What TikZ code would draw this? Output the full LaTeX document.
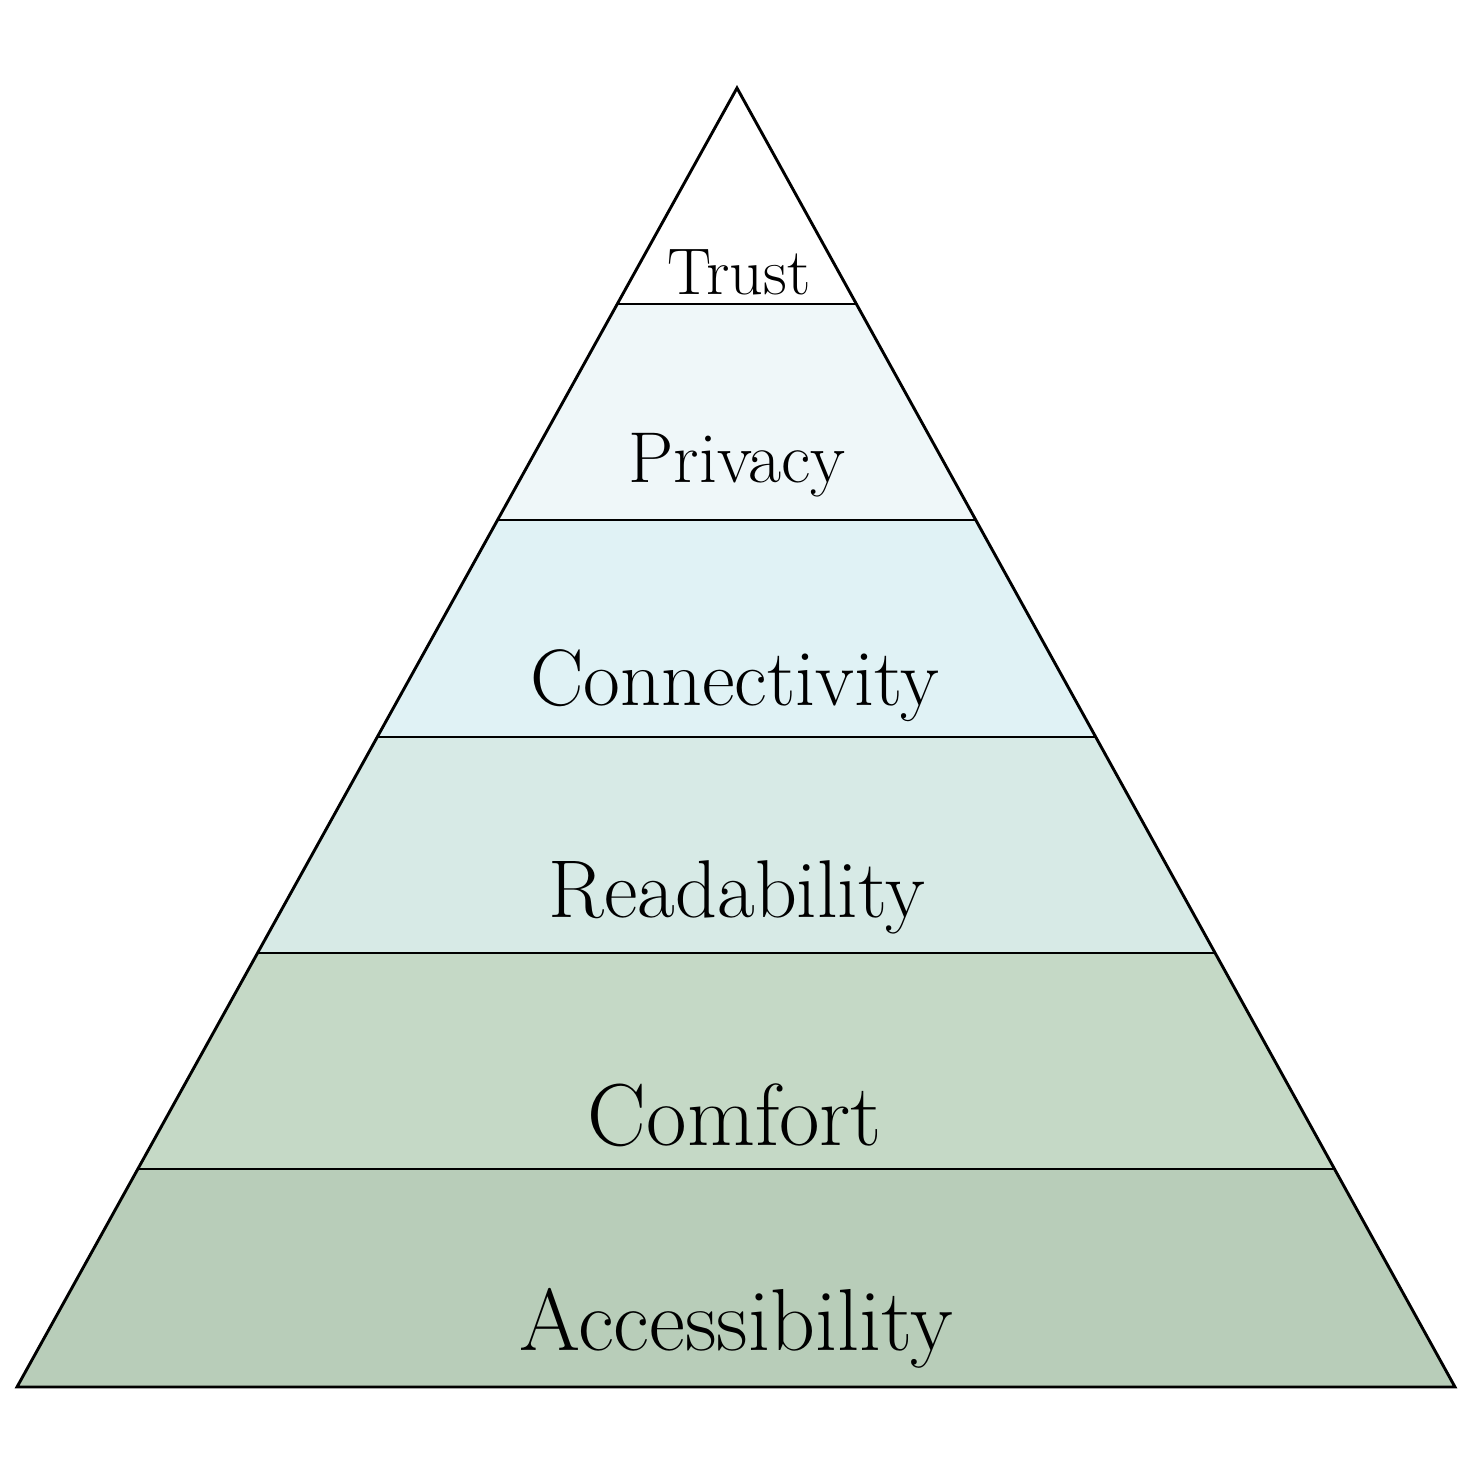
\documentclass[tikz,border=0pt]{standalone}
\begin{document}
\begin{tikzpicture}[x=1pt,y=-1pt,
  layer/.style={draw=black,line width=2.9pt,line join=miter},
  lbl/.style={anchor=base,inner sep=0pt,text=black}]
\definecolor{cPriv}{HTML}{EFF7F9}
\definecolor{cConn}{HTML}{E0F2F5}
\definecolor{cRead}{HTML}{D7EAE6}
\definecolor{cComf}{HTML}{C5D9C6}
\definecolor{cAcc}{HTML}{B8CDB9}
\useasboundingbox (0,0) rectangle (1476,1476);
\coordinate (A) at (737,88);
\coordinate (L1) at (617.3,304);  \coordinate (R1) at (856.4,304);
\coordinate (L2) at (497.6,520);  \coordinate (R2) at (975.7,520);
\coordinate (L3) at (377.3,737);  \coordinate (R3) at (1095.7,737);
\coordinate (L4) at (257.6,953);  \coordinate (R4) at (1215.1,953);
\coordinate (L5) at (137.9,1169); \coordinate (R5) at (1334.4,1169);
\coordinate (L6) at (17,1387);    \coordinate (R6) at (1455,1387);
\fill[white] (A) -- (R1) -- (L1) -- cycle;
\fill[cPriv] (L1) -- (R1) -- (R2) -- (L2) -- cycle;
\fill[cConn] (L2) -- (R2) -- (R3) -- (L3) -- cycle;
\fill[cRead] (L3) -- (R3) -- (R4) -- (L4) -- cycle;
\fill[cComf] (L4) -- (R4) -- (R5) -- (L5) -- cycle;
\fill[cAcc]  (L5) -- (R5) -- (R6) -- (L6) -- cycle;
\draw[layer] (A) -- (R6) -- (L6) -- cycle;
\draw[layer] (L1) -- (R1);
\draw[layer] (L2) -- (R2);
\draw[layer] (L3) -- (R3);
\draw[layer] (L4) -- (R4);
\draw[layer] (L5) -- (R5);
\node[lbl,font=\fontsize{66}{70}\selectfont] (t1) at (739,294) {Trust};
\node[lbl,font=\fontsize{72}{76}\selectfont] (t2) at (737,482) {Privacy};
\node[lbl,font=\fontsize{80}{84}\selectfont] (t3) at (735,705) {Connectivity};
\node[lbl,font=\fontsize{82}{86}\selectfont] (t4) at (737,917) {Readability};
\node[lbl,font=\fontsize{88}{92}\selectfont] (t5) at (735,1145) {Comfort};
\node[lbl,font=\fontsize{88}{92}\selectfont] (t6) at (736,1350) {Accessibility};
\end{tikzpicture}
\end{document}
